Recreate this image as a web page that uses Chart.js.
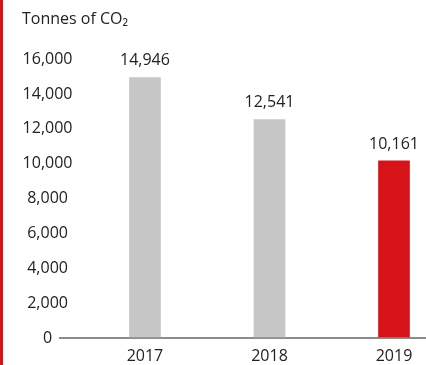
<!DOCTYPE html>
<html>
<head>
<meta charset="utf-8">
<script src="https://cdn.jsdelivr.net/npm/chart.js@4"></script>
<style>
  html, body { margin: 0; padding: 0; background: #fff; }
  .wrap { width: 423px; height: 365px; border-left: 3px solid #d7131a; }
</style>
</head>
<body>
<div class="wrap"><canvas id="co2Chart" width="423" height="365"></canvas></div>
<script>
// ========== CO2 EMISSIONS ==========

const years = ['2017', '2018', '2019'];
const tonnes = [14946, 12541, 10161];
const barColors = ['#c6c6c6', '#c6c6c6', '#d7131a'];
const yTicks = [0, 2000, 4000, 6000, 8000, 10000, 12000, 14000, 16000];

const fontFamily = '"Open Sans", "Liberation Sans", sans-serif';
const textColor = '#222';
const axisColor = '#8c8c8c';

function fmt(n) {
  return Number(n).toLocaleString('en-US');
}

// valores em cima das barras
const valueLabels = {
  id: 'valueLabels',
  afterDatasetsDraw(chart) {
    const ctx = chart.ctx;
    const meta = chart.getDatasetMeta(0);
    ctx.save();
    ctx.font = '16px ' + fontFamily;
    ctx.fillStyle = textColor;
    ctx.textAlign = 'center';
    ctx.textBaseline = 'middle';
    meta.data.forEach((bar, i) => {
      ctx.fillText(fmt(tonnes[i]), bar.x, bar.y - 17);
    });
    ctx.restore();
  }
};

const ctx = document.getElementById('co2Chart').getContext('2d');

new Chart(ctx, {
  type: 'bar',
  data: {
    datasets: [{
      data: tonnes.map((v, i) => ({ x: i, y: v })),
      backgroundColor: barColors,
      borderWidth: 0,
      barThickness: 31
    }]
  },
  options: {
    responsive: false,
    animation: false,
    layout: { padding: { left: 19, right: 0, top: 0, bottom: 0 } },
    plugins: {
      legend: { display: false },
      tooltip: { enabled: false },
      title: {
        display: true,
        text: 'Tonnes of CO₂',
        align: 'start',
        color: textColor,
        font: { family: fontFamily, size: 16, weight: 'normal' },
        padding: { top: 10, bottom: 30 }
      }
    },
    scales: {
      x: {
        type: 'linear',
        offset: false,
        min: -0.562,
        max: 2.257,
        afterFit: (scale) => { scale.height = 27; },
        grid: { display: false, offset: false, drawTicks: false },
        border: { display: false },
        ticks: {
          stepSize: 1,
          includeBounds: false,
          padding: 9,
          color: textColor,
          font: { family: fontFamily, size: 16 },
          callback: (v) => years[v] ?? ''
        }
      },
      y: {
        z: 1,
        min: yTicks[0],
        max: yTicks[yTicks.length - 1],
        afterFit: (scale) => { scale.width = 53; },
        afterBuildTicks: (scale) => { scale.ticks = yTicks.map(v => ({ value: v })); },
        // só a linha do zero aparece (eixo x), com o traço que sai para a esquerda
        grid: {
          display: true,
          drawTicks: true,
          tickLength: 16,
          lineWidth: 2,
          color: (c) => (c.tick && c.tick.value === 0 ? axisColor : 'rgba(0,0,0,0)')
        },
        border: { display: false },
        ticks: {
          crossAlign: 'center',
          padding: -13.5,
          color: textColor,
          font: { family: fontFamily, size: 16 },
          callback: (v) => fmt(v)
        }
      }
    }
  },
  plugins: [valueLabels]
});
</script>
</body>
</html>
